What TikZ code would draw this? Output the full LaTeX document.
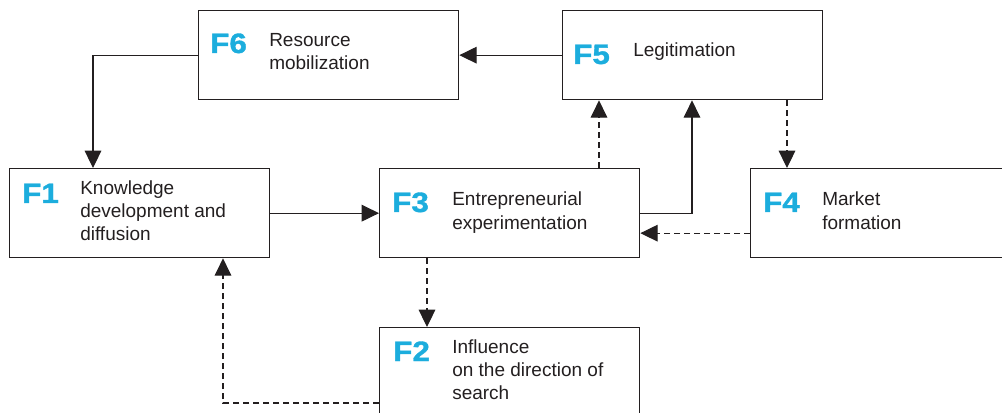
\documentclass[tikz,border=0pt]{standalone}
\usepackage{fontspec}
\setmainfont{Liberation Sans}
\newfontfamily\flabfont[FakeBold=1.2]{Liberation Sans Bold}
\usetikzlibrary{arrows.meta,calc}
\definecolor{ink}{HTML}{231F20}
\definecolor{fcyan}{HTML}{1CADDD}
\newcommand{\boxtext}[1]{\begin{tabular}[t]{@{}l@{}}#1\end{tabular}}
\begin{document}
\begin{tikzpicture}[x=0.75pt,y=-0.75pt,
  fbox/.style={draw=ink,line width=1pt,rectangle,inner sep=0pt,anchor=north west,
    minimum width=195pt,minimum height=66.75pt},
  flabel/.style={anchor=base west,inner sep=0pt,text=fcyan,
    font=\fontsize{21}{21}\flabfont},
  ftext/.style={anchor=base west,inner sep=0pt,text=ink,
    font=\fontsize{14.25}{17.25}\selectfont},
  conn/.style={draw=ink,line width=0.8pt,-{Triangle[length=13pt,width=12.5pt]}},
  dconn/.style={conn,dash pattern=on 4.5pt off 3pt}]
\useasboundingbox (0,0) rectangle (1002,413);
\clip (0,0) rectangle (1002,413);

% boxes
\node[fbox] (f6) at (198,10) {};
\node[fbox] (f5) at (562,10) {};
\node[fbox] (f1) at (9,168) {};
\node[fbox] (f3) at (379,168) {};
\node[fbox] (f4) at (750,168) {};
\node[fbox] (f2) at (379,327) {};

% labels and texts
\node[flabel] (l6) at (210,53) {\scalebox{1.12}[1]{F6}};
\node[ftext]  (t6) at (269,47) {\boxtext{Resource\\mobilization}};
\node[flabel] (l5) at (573,64) {\scalebox{1.12}[1]{F5}};
\node[ftext]  (t5) at (633,57) {\boxtext{Legitimation}};
\node[flabel] (l1) at (22,203) {\scalebox{1.12}[1]{F1}};
\node[ftext]  (t1) at (80,195) {\boxtext{Knowledge\\development and\\diffusion}};
\node[flabel] (l3) at (392,212) {\scalebox{1.12}[1]{F3}};
\node[ftext]  (t3) at (452,206) {\boxtext{Entrepreneurial\\experimentation}};
\node[flabel] (l4) at (763,212) {\scalebox{1.12}[1]{F4}};
\node[ftext]  (t4) at (822,206) {\boxtext{Market\\formation}};
\node[flabel] (l2) at (393,361) {\scalebox{1.12}[1]{F2}};
\node[ftext]  (t2) at (452,353) {\boxtext{Influence\\on the direction of\\search}};

% solid connectors
\draw[conn] (f5.west) -- (f6.east);
\draw[conn] (f6.west) -| ($(f1.north west)+(84,0)$);
\draw[conn] (f1.east) -- (f3.west);
\draw[conn] (f3.east) -| ($(f5.south west)+(130,0)$);

% dashed connectors
\draw[dconn] ($(f3.north west)+(220,0)$) -- ($(f5.south west)+(37,0)$);
\draw[dconn] ($(f5.south west)+(225,0)$) -- ($(f4.north west)+(37,0)$);
\draw[dconn] ($(f4.west)+(0,20)$) -- ($(f3.east)+(0,20)$);
\draw[dconn] ($(f3.south west)+(48,0)$) -- ($(f2.north west)+(48,0)$);
\draw[dconn] ($(f2.north west)+(0,76)$) -| ($(f1.south west)+(214,0)$);
\end{tikzpicture}
\end{document}
